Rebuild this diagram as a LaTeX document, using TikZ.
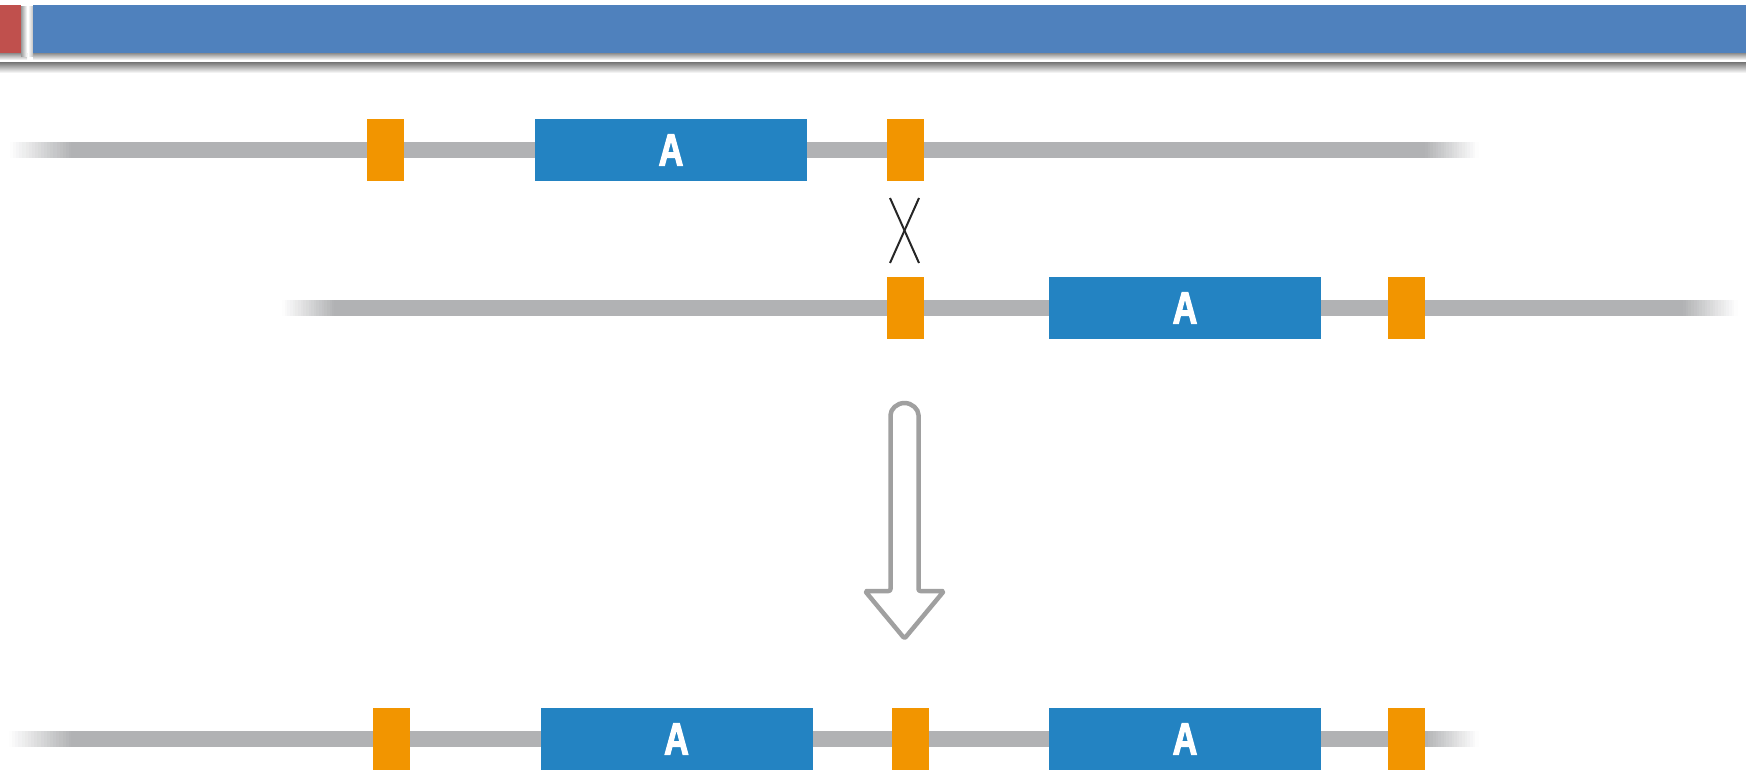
\documentclass[tikz,border=0pt]{standalone}
\usepackage{fontspec}
\setsansfont{Liberation Sans}
\newfontfamily\genefont{Liberation Sans}[FakeStretch=0.76, BoldFeatures={FakeBold=2.5}]
\definecolor{hdrblue}{HTML}{4F81BD}
\definecolor{hdrred}{HTML}{C0504D}
\definecolor{geneblue}{HTML}{2383C2}
\definecolor{markorange}{HTML}{F29500}
\definecolor{chromgray}{HTML}{B1B2B4}
\definecolor{arrowgray}{HTML}{A0A0A0}
\tikzset{
  orangebox/.style={fill=markorange, draw=none, inner sep=0pt, minimum width=37pt, minimum height=62pt},
  genebox/.style={fill=geneblue, draw=none, inner sep=0pt, minimum width=272pt, minimum height=62pt,
    text=white, font=\genefont\bfseries\fontsize{45}{45}\selectfont},
  crossline/.style={draw=black!85, line width=2pt},
  bigarrow/.style={draw=arrowgray, line width=4.5pt, line join=round, fill=white}
}
% fade-in / fade-out ends of a chromosome line: #1 = x start, #2 = x end, #3 = y top, #4 = 1 for fade in (white->gray), 0 for fade out
\newcommand\chromfade[4]{%
  \foreach \k in {0,...,19}{%
    \pgfmathsetmacro\xa{#1+(#2-#1)*\k/20}%
    \pgfmathsetmacro\xb{#1+(#2-#1)*(\k+1)/20+0.6}%
    \pgfmathsetmacro\pc{#4==1 ? (\k+0.5)*5 : 100-(\k+0.5)*5}%
    \fill[chromgray!\pc!white] (\xa,#3) rectangle (\xb,#3+16);
  }%
}
\begin{document}
\begin{tikzpicture}[x=1pt, y=-1pt]
\useasboundingbox (0,0) rectangle (1746,771);
% header
\shade[top color=black!45, bottom color=white] (0,53) rectangle (27,60);
\shade[left color=black!40, right color=white] (21,6) rectangle (27,56);
\shade[top color=black!45, bottom color=white] (33,53) rectangle (1746,60);
\shade[left color=white, right color=black!25] (28,6) rectangle (33,56);
\fill[hdrred] (0,5) rectangle (21,53);
\fill[hdrblue] (33,5) rectangle (1746,53);
\shade[top color=black!55, bottom color=white] (0,62) rectangle (1746,73);
% chromosome lines
% row 1
\chromfade{10}{72}{142}{1}
\fill[chromgray] (71,142) rectangle (1426,158);
\chromfade{1425}{1478}{142}{0}
% row 2
\chromfade{282}{335}{300}{1}
\fill[chromgray] (334,300) rectangle (1684,316);
\chromfade{1683}{1737}{300}{0}
% row 3
\chromfade{9}{72}{731}{1}
\fill[chromgray] (71,731) rectangle (1426,747);
\chromfade{1425}{1478}{731}{0}
% row 1 elements
\node[orangebox] (r1o1) at (385.5,150) {};
\node[genebox] (r1g) at (671,150) {A};
\node[orangebox] (r1o2) at (905,150) {};
% row 2 elements
\node[orangebox] (r2o1) at (905,308) {};
\node[genebox] (r2g) at (1185,308) {A};
\node[orangebox] (r2o2) at (1406.5,308) {};
% row 3 elements
\node[orangebox] (r3o1) at (391,739) {};
\node[genebox] (r3g1) at (676.5,739) {A};
\node[orangebox] (r3o2) at (910,739) {};
\node[genebox] (r3g2) at (1185,739) {A};
\node[orangebox] (r3o3) at (1406.5,739) {};
% crossover
\coordinate (xtl) at (890,198);
\coordinate (xtr) at (919,198);
\coordinate (xbl) at (890,263);
\coordinate (xbr) at (919,263);
\draw[crossline] (xtl) -- (xbr);
\draw[crossline] (xtr) -- (xbl);
% big arrow
\draw[bigarrow, rounded corners=2pt]
  (890.5,591) -- (890.5,417) arc[start angle=180, end angle=360, radius=14]
  -- (918.5,591) -- (944,591) -- (904.5,638.5) -- (865,591) -- cycle;
\end{tikzpicture}
\end{document}
